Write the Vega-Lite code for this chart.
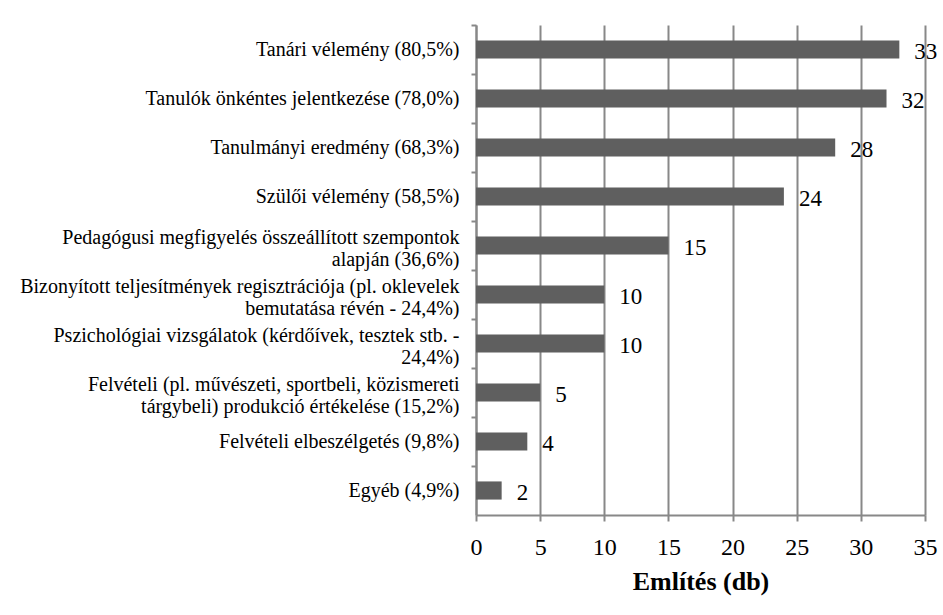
{
  "$schema": "https://vega.github.io/schema/vega-lite/v6.json",
  "autosize": "none",
  "width": 449,
  "height": 490,
  "padding": {"left": 476, "top": 25, "right": 18, "bottom": 100},
  "background": "white",
  "config": {
    "font": "Liberation Serif",
    "view": {"stroke": null}
  },
  "data": {
    "values": [
      {"kategoria": "Tanári vélemény (80,5%)", "db": 33},
      {"kategoria": "Tanulók önkéntes jelentkezése (78,0%)", "db": 32},
      {"kategoria": "Tanulmányi eredmény (68,3%)", "db": 28},
      {"kategoria": "Szülői vélemény (58,5%)", "db": 24},
      {"kategoria": "Pedagógusi megfigyelés összeállított szempontok|alapján (36,6%)", "db": 15},
      {"kategoria": "Bizonyított teljesítmények regisztrációja (pl. oklevelek|bemutatása révén - 24,4%)", "db": 10},
      {"kategoria": "Pszichológiai vizsgálatok (kérdőívek, tesztek stb. -|24,4%)", "db": 10},
      {"kategoria": "Felvételi (pl. művészeti, sportbeli, közismereti|tárgybeli) produkció értékelése (15,2%)", "db": 5},
      {"kategoria": "Felvételi elbeszélgetés (9,8%)", "db": 4},
      {"kategoria": "Egyéb (4,9%)", "db": 2}
    ]
  },
  "encoding": {
    "y": {
      "field": "kategoria",
      "type": "nominal",
      "sort": null,
      "scale": {"paddingInner": 0, "paddingOuter": 0},
      "axis": {
        "title": null,
        "labelExpr": "split(datum.label, '|')",
        "labelFont": "Liberation Serif",
        "labelFontSize": 20,
        "labelColor": "black",
        "labelLimit": 600,
        "labelPadding": 12,
        "labelLineHeight": 22,
        "labelOffset": {"condition": {"test": "indexof(datum.value, '|') >= 0", "value": -8}, "value": 0},
        "bandPosition": 0,
        "domainColor": "#888888",
        "domainWidth": 2,
        "tickColor": "#888888",
        "tickWidth": 2,
        "tickSize": 5,
        "grid": false
      }
    },
    "x": {
      "field": "db",
      "type": "quantitative",
      "scale": {"domain": [0, 35], "nice": false},
      "axis": {
        "title": "Említés (db)",
        "titleFont": "Liberation Serif",
        "titleFontSize": 26,
        "titleFontWeight": "bold",
        "titleColor": "black",
        "titlePadding": 9,
        "values": [0, 5, 10, 15, 20, 25, 30, 35],
        "labelFont": "Liberation Serif",
        "labelFontSize": 24,
        "labelColor": "black",
        "labelPadding": 14,
        "labelFlush": false,
        "domainColor": "#888888",
        "domainWidth": 2,
        "tickColor": "#888888",
        "tickWidth": 2,
        "tickSize": 6,
        "gridColor": "#888888",
        "gridWidth": 2
      }
    }
  },
  "layer": [
    {
      "mark": {"type": "bar", "color": "#5f5f5f", "height": {"band": 0.37}}
    },
    {
      "mark": {"type": "text", "align": "left", "baseline": "middle", "dx": 15, "dy": 2, "fontSize": 23, "font": "Liberation Serif", "color": "black"},
      "encoding": {"text": {"field": "db", "type": "quantitative"}}
    }
  ]
}
